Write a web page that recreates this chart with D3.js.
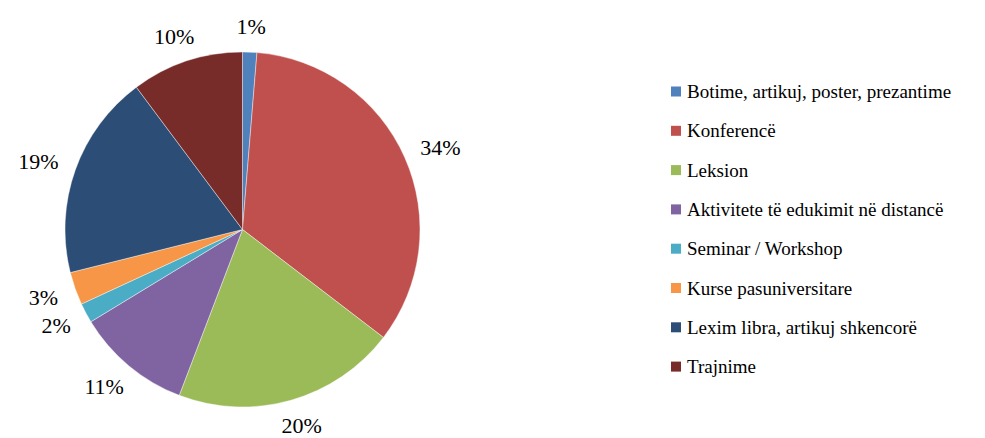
<!DOCTYPE html>
<html><head><meta charset="utf-8">
<script src="https://cdn.jsdelivr.net/npm/d3@7"></script>
<style>
svg text { font-family: "Liberation Serif", "Times New Roman", Times !important; }
</style>
</head><body style="margin:0"><svg id="c" width="985" height="438"></svg>
<script>
const categories = ["Botime, artikuj, poster, prezantime","Konferencë","Leksion","Aktivitete të edukimit në distancë","Seminar / Workshop","Kurse pasuniversitare","Lexim libra, artikuj shkencorë","Trajnime"];
const values = [1.3, 34.1, 20.4, 10.5, 1.8, 3.0, 18.7, 10.2];
const labels = ["1%","34%","20%","11%","2%","3%","19%","10%"];
const colors = ["#4F81BD","#C0504D","#9BBB59","#8064A2","#4BACC6","#F79646","#2C4D75","#772C2A"];

const svg = d3.select("#c");
const fontName = "Liberation Serif";
const cx = 242.5, cy = 229.5, R = 177.5;
const data = categories.map((c,i)=>({c, v:values[i], l:labels[i], col:colors[i]}));
const pie = d3.pie().value(d=>d.v).sort(null);
const arcs = pie(data);
const arc = d3.arc().innerRadius(0).outerRadius(R);
const g = svg.append("g").attr("transform",`translate(${cx},${cy})`);
g.selectAll("path").data(arcs).join("path").attr("d",arc).attr("fill",d=>d.data.col)
  .attr("stroke","#fff").attr("stroke-width",0.6).attr("stroke-opacity",0.7);

const gap = 19;
const lbl = g.selectAll("text.lbl").data(arcs).join("text").attr("class","lbl")
  .style("font-family",d=>`"${fontName}"`).attr("font-size",22)
  .attr("text-anchor","middle")
  .text(d=>d.data.l);
lbl.each(function(d){
    const w = this.getComputedTextLength(), h = 14;
    const a = (d.startAngle+d.endAngle)/2;
    const s = Math.sin(a), c = -Math.cos(a);
    const x = (R+gap)*s + s*w/2;
    const y = (R+gap)*c + c*h/2 + 8;
    d3.select(this).attr("x",x).attr("y",y);
  });

const lx = 671, ly0 = 91.5, step = 39.3;
const lg = svg.append("g");
const items = lg.selectAll("g").data(data).join("g").attr("transform",(d,i)=>`translate(${lx},${ly0+i*step})`);
items.append("rect").attr("x",0).attr("y",-5).attr("width",10).attr("height",10).attr("fill",d=>d.col);
items.append("text").attr("x",16).attr("y",6.5)
  .style("font-family",d=>`"${fontName}"`).attr("font-size",19).text(d=>d.c);
</script></body></html>
